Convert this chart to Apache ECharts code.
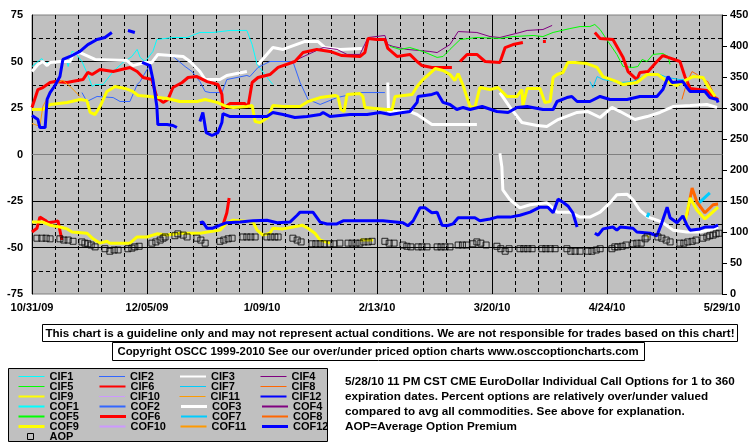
<!DOCTYPE html>
<html><head><meta charset="utf-8">
<script src="https://cdn.jsdelivr.net/npm/echarts@6/dist/echarts.min.js"></script>
<style>html,body{margin:0;padding:0;background:#fff}#c{width:755px;height:446px}</style>
</head><body><div id="c"></div>
<script>
// x = days since 10/31/09
const dateLabels = ['10/31/09','12/05/09','1/09/10','2/13/10','3/20/10','4/24/10','5/29/10'];

const cif1 = [[0,47.3],[1.8,50],[3,51.6],[4,48.9],[4.9,49.5],[10.7,49.5],[11,47.3],[12.2,55.4],[13.1,54.8],[15.2,50],[16.7,44.1],[18.3,36.6],[19.2,37.6],[21.6,37.6],[24.7,44.6],[27.7,49.5],[30.4,52.7],[32,56.5],[32.9,52.2],[34.4,50],[36.8,55.4],[38,61.8],[42.9,62.9],[47.2,62.9],[51.1,65.6],[55.1,65.6],[60.3,66.7],[65.4,66.7],[67,59.1],[68.5,48.4],[73.3,37.6]];
const cif2 = [[15.2,33.3],[16.7,28.5],[19.8,31.2],[24.7,30.6],[26.8,28.5],[29.8,28.5],[32,37.6],[32.9,39.2],[35,45.7],[38,53.8],[42.9,52.7],[46.6,47.3],[48.7,44.6],[51.1,39.2],[52.7,33.9],[54.2,33.3],[57.8,33.3],[59.3,40.3],[62.4,41.4],[65.4,42.5],[66.3,41.9],[68.8,46.8],[72.4,50],[79.4,50],[81.6,38.7],[84,29.6],[87.7,26.9],[92.8,30.6],[99.8,33.3],[107.4,33.3]];
const cif3 = [[0,44.6],[1.8,48.4],[3.3,50],[4.6,47.8],[5.5,49.5],[8.5,50],[11.6,50],[12.5,53.8],[14.6,54.8],[19.2,51.1],[28.9,50.5],[30.7,47.8],[34.4,49.5],[36.5,49.5],[38.3,53.8],[46,52.7],[48.1,50],[51.1,44.6],[52.7,40.3],[57.2,40.3],[59.3,42.5],[65.4,44.6],[66.5,null],[68.8,48.4],[73.3,57.5],[76.4,56.5],[83.1,60.8],[87,60.8],[89.2,57.5],[93.7,56.5],[100.4,57],[104,null],[108.3,38.7],[108.5,23.1],[115,23.1],[117.2,21.5],[121.7,16.1],[135.4,16.1],[139,null],[142.4,33.3],[145.5,25.3],[149.1,17.2],[153.7,15.6],[156.7,15.1],[160.1,18.8],[165.9,22.6],[169.2,23.1],[172.9,19.9],[176.5,25.3],[179,23.1],[183.5,18.8],[187.2,20.4],[191.1,22.6],[195.1,25.8],[200.3,26.3],[205.4,26.9],[208.5,25.3]];
const cif4 = [[79.4,49.5],[80.7,51.1],[88.6,57.5],[92.8,56.5],[95.9,53.8],[99.8,53.8],[102.3,62.9],[107.4,64],[108.3,59.1],[109.9,58.1],[114.1,56.5],[121.1,55.4],[123.3,54.8],[127.2,59.1],[129.7,66.1],[135.4,65.6],[139.4,63.4],[142.4,62.9],[148.5,65.6],[150.7,66.7],[155.5,67.2],[158.3,69.4]];
const cif5 = [[109,58.1],[112,56.5],[115,57.5],[119,55.4],[123.3,52.2],[125.1,52.7],[127.2,56.5],[130.3,61.8],[135.4,62.9],[142.4,62.4],[146.4,63.4],[152.5,64],[155.5,63.4],[158.6,65.6],[163.7,67.7],[166.8,68.8],[169.8,68.8],[171.3,69.9],[172.9,67.2],[175.3,60.8],[178,53.8],[179.9,47.3],[182.9,46.8],[184.4,47.3],[185.7,51.1],[187.2,50],[189,53.8],[192,54.3],[193.6,52.7],[194.2,48.4]];
const cif6 = [[0,25.3],[1.8,34.9],[3.3,36],[5.5,38.7],[7,39.2],[10.7,38.7],[12.2,39.2],[15.5,40.3],[17,44.1],[18.3,43],[20.7,45.7],[24.7,44.6],[29.8,46.8],[32,44.6],[33.8,41.4],[36.5,40.3],[38,30.6],[39.9,28],[41.4,29.6],[42.9,36],[45.7,38.7],[47.5,41.4],[50.2,41.9],[53.3,39.2],[56.6,37.6],[57.8,32.3],[58.1,24.7],[60.3,27.4],[64.8,27.4],[65.7,25.3],[67,38.7],[68.8,41.4],[72.4,43],[74.9,46.8],[80,50],[82.5,54.8],[86.7,56.5],[90.7,55.4],[94.3,53.2],[99.8,52.7],[101.3,54.8],[102.3,62.4],[105,61.8],[107.4,61.8],[108.3,57],[111.1,52.7],[115,53.8],[117.2,50],[118.7,47.8],[121.7,46.8],[127.8,46.8],[129,null],[130.3,50],[132.4,53.8],[135.4,53.8],[137.9,50],[142.4,49.5],[144,57.5],[146.4,59.1],[149.4,60.2],[152,null],[155.5,60.8],[156.4,60.8],[160,null],[171.3,65.6],[172.9,62.4],[176.8,61.8],[179.9,52.2],[181.4,44.6],[184.1,40.3],[185,44.1],[187.5,44.6],[190.2,50],[192,53.2],[193.6,52.2],[197.2,50],[198.7,41.9],[200.3,35.5],[205.4,34.4],[207.3,31.2],[208.8,29.6]];
const cif7 = [[169.8,39.2],[170.7,36],[172,41.9],[173.8,40.3],[179,38.7],[182.9,39.2],[187.2,43],[190.5,43.5],[193.3,41.4],[197.2,40.3],[199.3,40.3]];
const cif8 = [[197.8,29.6],[199.3,38.7],[200.9,44.6],[202.4,43],[204.2,40.3],[205.7,39.2],[208.5,29.6]];
const cif9 = [[0,24.2],[3.3,24.2],[5.5,26.9],[10.7,28],[14.6,29.6],[16.7,29],[17.7,22.6],[19.2,21.5],[20.7,25.8],[22.8,33.9],[25.3,36.6],[28.3,35.5],[30.7,33.9],[32.3,31.7],[35.9,31.2],[41.1,30.1],[45,28.5],[50.2,28.5],[52.7,29.6],[56.3,28],[59.3,25.8],[61.2,25.3],[65.4,25.8],[67,26.3],[67.9,17.7],[69.4,17.2],[71.8,19.9],[73.3,26.3],[76.4,25.8],[81.6,25.8],[84,28.5],[87.7,30.6],[92.2,31.7],[93.1,31.2],[94,24.2],[95,23.1],[95.9,32.3],[99.8,32.8],[100.7,31.2],[101.3,25.3],[108,24.2],[109.6,24.2],[110.5,31.2],[115.7,32.3],[117.2,36.6],[119,40.3],[122.7,46.2],[125.1,45.2],[127.2,43],[128.7,39.8],[129.7,43.5],[131.2,37.1],[133.3,25.8],[134.8,25.3],[136.3,36],[139.4,34.9],[141.8,36],[144.6,31.2],[147.6,31.2],[149.1,34.9],[149.4,26.3],[150.7,35.5],[154.6,35.5],[156.1,28],[157.7,28.5],[158.6,41.4],[159.8,43],[161.6,44.1],[163.1,49.5],[165.3,49.5],[168.9,48.9],[172,46.8],[173.8,41.9],[178,39.2],[179.9,37.6],[184.1,38.7],[187.2,43],[190.5,43],[193.3,39.2],[196.3,37.1],[199.3,40.3],[201.2,41.9],[204.2,41.4],[205.7,36.6],[207.9,31.2]];
const cif10 = [];
const cif11 = [[0,16.7],[2.4,15.1],[3.3,25.8],[5.5,33.3],[7.9,38.7],[9.4,39.8],[11.6,36.6],[14.6,31.2]];
const cif12 = [[0,21],[1.8,18.8],[2.4,14.5],[4,14.5],[4.6,29.6],[5.5,33.3],[7,37.1],[8.5,41.9],[9.4,51.1],[11.6,52.7],[14.6,55.4],[17,59.1],[19.8,61.8],[22.2,62.9],[24.3,65.6],[26,null],[29.2,66.7],[31.3,65.6],[32.5,null],[33.5,49.5],[35.9,47.8],[36.8,40.3],[38,25.8],[38.3,16.1],[41.1,16.1],[42.9,15.6],[44.1,14.5],[48,null],[51.1,17.7],[52,22.6],[53,11.8],[54.8,10.2],[56.6,11.8],[57.8,17.2],[58.1,22],[60.3,20.4],[66.3,20.4],[71.5,20.4],[73.3,22.6],[76.4,21.5],[80,19.9],[83.7,20.4],[87.7,21.5],[88.6,22.6],[90.7,20.4],[96.8,21.5],[102,21.5],[105.9,22.6],[109,21.5],[112.9,22.6],[115,23.1],[117.2,28],[117.5,31.2],[121.7,32.3],[123.3,33.3],[125.1,28],[127.2,26.9],[129.3,24.2],[131.2,25.3],[133.3,24.2],[137,25.8],[141.5,23.1],[144.9,22.6],[147.6,25.3],[150.7,25.8],[155.5,24.2],[158.6,24.2],[159.8,28.5],[162.8,30.6],[164.3,31.2],[165.9,28.5],[169.8,28.5],[172.9,31.2],[175.9,29.6],[181.1,29.6],[185,31.2],[190.2,31.2],[192,34.9],[193.6,41.9],[194.8,38.7],[198.1,39.2],[199.3,36],[200.3,33.9],[204.8,33.9],[206.3,30.6],[208.5,29.6],[208.8,28]];

// right axis (premium)
const cof1 = [], cof2 = [], cof4 = [], cof5 = [], cof10 = [], cof11 = [];
const cof3 = [[142.4,227],[143,205],[143.3,168],[145.5,152],[148.5,139],[151.6,144],[156.7,147],[159.8,132],[163.7,132],[166.8,124],[169.8,124],[172.9,132],[175.9,147],[178,160],[181.1,161],[182.9,152],[185,135],[187.5,124],[190.2,119],[192,115],[195.1,103],[199.3,100],[203.3,100],[207.3,105],[208.8,108]];
const cof6 = [[0,100],[1.5,106],[2.4,124],[3,123],[4,119],[4.9,115],[6.4,116],[7.9,118],[8.5,115],[9.1,87],[20,null],[58.1,111],[59.3,131],[60,155]];
const cof7 = [[187.2,124],[187.8,131],[195,null],[202.4,144],[206.3,163]];
const cof8 = [[199.3,127],[200.9,171],[202.4,148],[204.8,131],[207.3,144],[208.8,145]];
const cof9 = [[0,116],[3.3,116],[5.5,111],[8.5,108],[10.7,105],[12.2,100],[16.7,98],[18.6,89],[20.7,82],[22.8,85],[23.7,82],[29.8,82],[32,92],[35,92],[38,97],[41.1,95],[45,98],[51.1,98],[57.2,103],[59.3,115],[61.2,119],[67.3,116],[68.5,103],[70.3,95],[72.4,98],[73.3,106],[76.4,105],[79.4,108],[82.2,111],[84,106],[86.1,98],[87.7,87],[90.7,82],[95,null],[99.8,87],[103.8,87],[150,null],[187.2,92],[187.6,94],[192,null],[198.7,115],[200.3,155],[202.4,135],[204.8,121],[206.9,131],[208.8,140]];
const cof12 = [[51.1,115],[52,116],[53.3,106],[54.8,106],[57.2,111],[59.3,115],[63.3,116],[67.3,118],[71.5,119],[74.6,115],[78.5,116],[80.7,127],[81.6,132],[85.5,132],[87.7,116],[89.8,113],[92.8,113],[94.7,118],[106.8,118],[112.9,115],[114.4,110],[116,118],[118.1,139],[119.6,139],[121.7,131],[123.3,132],[124.8,111],[126.3,110],[128.1,113],[129.7,123],[134.8,123],[136.3,118],[139.4,121],[141.5,124],[145.5,124],[148.5,127],[151.6,132],[154.6,140],[157,140],[158.6,131],[160.1,153],[161.6,148],[163.1,142],[164.6,131],[165.9,108],[168,null],[171.3,98],[172.3,95],[173.8,105],[176.8,108],[178,103],[179,108],[182.9,106],[184.1,100],[188.1,98],[190.2,94],[191.7,115],[193.3,140],[194.2,123],[196.3,115],[198.1,126],[199.3,111],[200.3,103],[203.3,105],[204.8,108],[207.3,108],[208.8,111]];
const aop = [[1.5,90],[3,90],[4.3,90],[5.5,89],[8.5,89],[9.7,87],[11,87],[12.5,85],[15.2,84],[16.1,82],[17,81],[18,79],[19.2,76],[22.2,73],[23.7,69],[25,71],[26.2,71],[29.2,73],[30.4,74],[31.3,76],[32.6,77],[36.5,82],[37.7,84],[39,87],[39.9,90],[40.5,92],[43.5,94],[44.4,97],[46,95],[47.2,92],[50.2,90],[51.4,87],[52.7,82],[57.2,85],[58.4,87],[59.7,89],[60.9,90],[64.2,92],[65.4,92],[66.6,92],[67.9,92],[71.5,92],[72.7,92],[73.9,92],[74.9,92],[79.4,90],[80.7,87],[81.9,84],[85.2,81],[86.4,81],[87.7,81],[88.9,81],[90.7,81],[91.9,81],[93.7,82],[96.2,82],[97.4,82],[98.6,82],[99.8,82],[101,84],[102.3,84],[103.5,85],[107.4,85],[108.7,82],[110.2,82],[112.9,79],[114.1,77],[115.3,76],[117.5,76],[118.7,76],[120.2,76],[123.3,76],[124.5,76],[125.7,76],[127.2,76],[129.7,79],[131,79],[132.2,79],[134.2,81],[135.4,84],[136.6,82],[138.2,79],[141.5,77],[142.7,73],[144,69],[145.2,73],[148.5,73],[149.7,73],[150.9,73],[152.2,73],[155.2,73],[156.4,73],[157.7,73],[159.2,73],[162.8,73],[164,69],[165.3,69],[166.8,69],[169.2,69],[170.4,69],[171.7,71],[172.9,73],[176.5,73],[177.4,76],[178.3,76],[179.6,77],[180.8,79],[182.9,81],[184.1,82],[185.4,82],[186.6,89],[187.2,92],[190.5,92],[191.7,90],[193,87],[194.2,84],[197.2,82],[198.4,82],[199.6,84],[200.9,85],[202.1,87],[204.2,90],[205.4,92],[206.3,94],[207.3,95],[208.2,97],[209.1,98]];

const colors = ['#00FFFF','#3366FF','#FFFFFF','#800080','#00FF00','#FF0000','#00CCFF','#FF6600','#FFFF00','#CC99FF','#FF9900','#0000FF'];
const cifData = [cif1,cif2,cif3,cif4,cif5,cif6,cif7,cif8,cif9,cif10,cif11,cif12];
const cofData = [cof1,cof2,cof3,cof4,cof5,cof6,cof7,cof8,cof9,cof10,cof11,cof12];
const cifChartW = [1,1,3,1,1,3,1,1,3,1,1,3];
const cifLegW = [1,1,2,1,1,2,1,1,2,1,1,2];
const cofLegW = [2,2,3,2,2,3,2,2,3,2,2,3];

const FONT = 'Liberation Sans';
const noSym = {color:'rgba(0,0,0,0)', borderColor:'rgba(0,0,0,0)', borderWidth:0, opacity:0};
const series = [];
const legendData = [];
for (let i = 0; i < 12; i++) {
  series.push({name:'CIF'+(i+1), type:'line', yAxisIndex:0, data:cifData[i], symbol:'none', showSymbol:false, connectNulls:false,
    itemStyle:{color:colors[i]}, lineStyle:{color:colors[i], width:cifChartW[i]}, z:3});
  legendData.push({name:'CIF'+(i+1), itemStyle:noSym, lineStyle:{color:colors[i], width:cifLegW[i], opacity:1}});
}
for (let i = 0; i < 12; i++) {
  series.push({name:'COF'+(i+1), type:'line', yAxisIndex:1, data:cofData[i], symbol:'none', showSymbol:false, connectNulls:false,
    itemStyle:{color:colors[i]}, lineStyle:{color:colors[i], width:3}, z:3});
  legendData.push({name:'COF'+(i+1), itemStyle:noSym, lineStyle:{color:colors[i], width:cofLegW[i], opacity:1}});
}
series.push({name:'AOP', type:'scatter', yAxisIndex:1, data:aop, symbol:'rect', symbolSize:6,
  itemStyle:{color:'rgba(0,0,0,0)', borderColor:'#000', borderWidth:1}, z:4});
legendData.push({name:'AOP', itemStyle:noSym});

const chart = echarts.init(document.getElementById('c'), null, {renderer:'canvas'});
chart.setOption({
  animation:false,
  backgroundColor:'#FFFFFF',
  grid:{left:32, right:33, top:15, bottom:152, show:true, backgroundColor:'#C0C0C0', borderColor:'#808080', borderWidth:1},
  xAxis:{type:'value', min:0, max:210, interval:35,
    axisLine:{show:true, lineStyle:{color:'#808080'}}, axisTick:{show:false},
    axisLabel:{margin:8, color:'#000', fontWeight:'bold', fontSize:11, fontFamily:FONT,
      formatter:(v)=>dateLabels[Math.round(v/35)] || ''},
    splitLine:{show:true, lineStyle:{color:'#000', width:1}},
    minorTick:{show:false, splitNumber:5},
    minorSplitLine:{show:true, lineStyle:{color:'#000', width:1, type:[4,3]}}},
  yAxis:[
    {type:'value', min:-75, max:75, interval:25, position:'left',
     axisLine:{show:true, onZero:false, lineStyle:{color:'#000'}}, axisTick:{show:false},
     axisLabel:{margin:9, color:'#000', fontWeight:'bold', fontSize:11, fontFamily:FONT},
     splitLine:{show:true, showMinLine:false, showMaxLine:false, lineStyle:{color:'#000', width:1}},
     minorTick:{show:false, splitNumber:2},
     minorSplitLine:{show:true, lineStyle:{color:'#000', width:1, type:[4,3]}}},
    {type:'value', min:0, max:450, interval:50, position:'right',
     axisLine:{show:true, onZero:false, lineStyle:{color:'#000'}},
     axisTick:{show:true, length:5, lineStyle:{color:'#000'}},
     axisLabel:{margin:8, color:'#000', fontWeight:'bold', fontSize:11, fontFamily:FONT},
     splitLine:{show:false}}
  ],
  legend:{show:true, left:17, top:371, width:330, padding:0, itemGap:-1, itemWidth:26, itemHeight:8,
    selectedMode:false, orient:'horizontal', data:legendData,
    textStyle:{color:'#000', fontWeight:'bold', fontSize:11, fontFamily:FONT, width:50, lineHeight:10, padding:0}},
  graphic:[
    {type:'rect', z:0, shape:{x:8.5, y:368.5, width:319, height:73}, style:{fill:'#C0C0C0', stroke:'#000', lineWidth:1}},
    {type:'rect', z:100, shape:{x:27.5, y:433.5, width:6, height:6}, style:{fill:'rgba(0,0,0,0)', stroke:'#000', lineWidth:1}},
    {type:'rect', z:0, shape:{x:42.5, y:324.5, width:695, height:17}, style:{fill:'#fff', stroke:'#000', lineWidth:1}},
    {type:'text', z:1, x:390, y:333.5, style:{text:'This chart is a guideline only and may not represent actual conditions. We are not responsible for trades based on this chart!', font:'bold 11.6px "Liberation Sans"', fill:'#000', align:'center', verticalAlign:'middle'}},
    {type:'rect', z:0, shape:{x:112.5, y:342.5, width:532, height:18}, style:{fill:'#fff', stroke:'#000', lineWidth:1}},
    {type:'text', z:1, x:378, y:351.5, style:{text:'Copyright OSCC 1999-2010 See our over/under priced option charts www.osccoptioncharts.com', font:'bold 11.4px "Liberation Sans"', fill:'#000', align:'center', verticalAlign:'middle'}},
    {type:'text', z:1, x:345, y:374, style:{text:'5/28/10 11 PM CST CME EuroDollar Individual Call Options for 1 to 360\nexpiration dates. Percent options are relatively over/under valued\ncompared to avg all commodities. See above for explanation.\nAOP=Average Option Premium', font:'bold 11.7px "Liberation Sans"', lineHeight:15, fill:'#000', align:'left', verticalAlign:'top'}}
  ],
  series:series
});
</script></body></html>
